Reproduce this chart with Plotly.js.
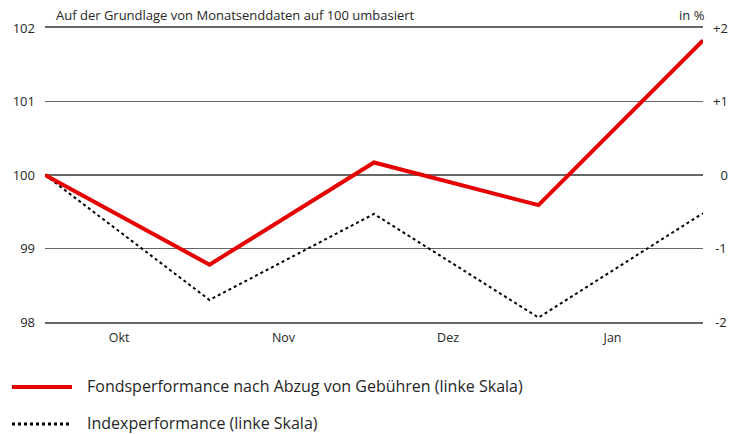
<!DOCTYPE html>
<html>
<head>
<meta charset="utf-8">
<script src="https://cdn.plot.ly/plotly-3.0.1.min.js"></script>
<style>html,body{margin:0;padding:0;background:#fff;}#chart{width:742px;height:434px;}</style>
</head>
<body>
<div id="chart"></div>
<script>
// ---- data ----
const months = ["Okt", "Nov", "Dez", "Jan"];
const pointIndex = [0, 1, 2, 3, 4];
const fundValues = [100, 98.78, 100.17, 99.59, 101.83];
const indexValues = [100, 98.30, 99.47, 98.06, 99.48];
const leftTicks = [98, 99, 100, 101, 102];
const rightTicks = [-2, -1, 0, 1, 2];
const rightTickLabels = ["\u2009-2", "\u2009-1", "\u20070", "+1", "+2"];
const fundLabel = "Fondsperformance nach Abzug von Gebühren (linke Skala)";
const indexLabel = "Indexperformance (linke Skala)";
const subTitle = "Auf der Grundlage von Monatsenddaten auf 100 umbasiert";
const unitLabel = "in %";

// ---- layout helpers ----
const W = 742, H = 434;
const M = {l: 45, r: 39, t: 28, b: 112};
const pw = W - M.l - M.r, ph = H - M.t - M.b;
const px = x => (x - M.l) / pw;
const py = y => (H - M.b - y) / ph;

const FONT = '"Open Sans", "DejaVu Sans", sans-serif';
const RED = '#e60000';
const GRID = '#666';
const TXT = '#262626';

const traces = [
  {
    x: pointIndex, y: indexValues, type: 'scatter', mode: 'lines',
    line: {color: '#000', width: 2, dash: 'dot'}, hoverinfo: 'skip', showlegend: false
  },
  {
    x: pointIndex, y: fundValues, type: 'scatter', mode: 'lines',
    line: {color: RED, width: 4}, hoverinfo: 'skip', showlegend: false
  },
  {
    x: [0], y: [0], yaxis: 'y2', type: 'scatter', mode: 'markers',
    marker: {opacity: 0}, hoverinfo: 'skip', showlegend: false
  }
];

const layout = {
  width: W, height: H,
  margin: M,
  paper_bgcolor: '#fff', plot_bgcolor: '#fff',
  font: {family: FONT, size: 13, color: TXT},
  showlegend: false,
  xaxis: {
    range: [0, 4],
    tickvals: months.map((m, i) => i + 0.45),
    ticktext: months,
    showgrid: false, zeroline: false,
    showline: true, mirror: true, linecolor: GRID, linewidth: 1.6,
    ticks: '', ticklabelstandoff: 3,
    tickfont: {family: FONT, size: 12.5, color: TXT},
    fixedrange: true
  },
  yaxis: {
    range: [98, 102],
    tickvals: leftTicks,
    showgrid: true, gridcolor: GRID, gridwidth: 1.6,
    zeroline: false, showline: false, ticks: '',
    ticklabelstandoff: 9,
    tickfont: {family: FONT, size: 13, color: TXT},
    fixedrange: true
  },
  yaxis2: {
    range: [-2, 2],
    overlaying: 'y', side: 'right',
    tickvals: rightTicks, ticktext: rightTickLabels,
    showgrid: false, zeroline: false, showline: false, ticks: '',
    ticklabelstandoff: 9,
    tickfont: {family: FONT, size: 13, color: TXT},
    fixedrange: true
  },
  shapes: [
    {type: 'line', xref: 'paper', yref: 'paper', x0: px(12), x1: px(72), y0: py(387), y1: py(387),
     line: {color: RED, width: 4}},
    {type: 'line', xref: 'paper', yref: 'paper', x0: px(12), x1: px(72), y0: py(424), y1: py(424),
     line: {color: '#000', width: 3, dash: 'dot'}}
  ],
  annotations: [
    {text: subTitle, xref: 'paper', yref: 'paper', x: px(54), y: py(15), xanchor: 'left', yanchor: 'middle',
     showarrow: false, font: {family: FONT, size: 13, color: TXT}},
    {text: unitLabel, xref: 'paper', yref: 'paper', x: px(707), y: py(15), xanchor: 'right', yanchor: 'middle',
     showarrow: false, font: {family: FONT, size: 13, color: TXT}},
    {text: fundLabel, xref: 'paper', yref: 'paper', x: px(85), y: py(386), xanchor: 'left', yanchor: 'middle',
     showarrow: false, font: {family: FONT, size: 16, color: TXT}},
    {text: indexLabel, xref: 'paper', yref: 'paper', x: px(85), y: py(423), xanchor: 'left', yanchor: 'middle',
     showarrow: false, font: {family: FONT, size: 16, color: TXT}}
  ]
};

Plotly.newPlot('chart', traces, layout, {displayModeBar: false, staticPlot: true});
</script>
</body>
</html>
